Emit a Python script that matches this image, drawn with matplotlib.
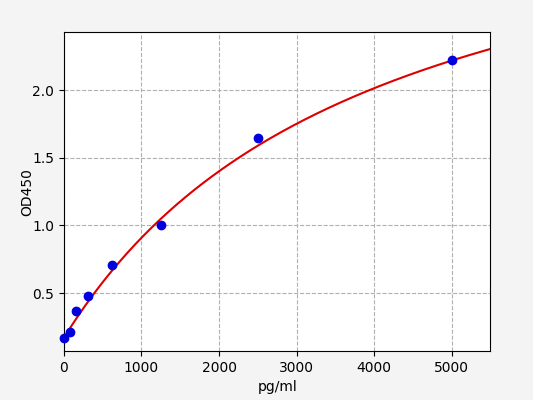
import numpy as np
import matplotlib.pyplot as plt

conc = [0, 78, 156, 312, 625, 1250, 2500, 5000]
od = [0.17, 0.21, 0.365, 0.475, 0.705, 1.0, 1.645, 2.22]

# four parameter logistic fit parameters (a, b, c, d)
fit_a, fit_b, fit_c, fit_d = 0.17, 1.0, 3982, 3.85

xs = np.linspace(0, 5500, 300)
ys = fit_d + (fit_a - fit_d) / (1 + (xs / fit_c) ** fit_b)

fig, ax = plt.subplots(figsize=(5.33, 4), dpi=100)
fig.patch.set_facecolor('#f4f4f4')
ax.plot(xs, ys, color='#dd0000', lw=1.5, zorder=2)
ax.scatter(conc, od, color='#0000dd', s=36, zorder=3, clip_on=False)
ax.set_xlim(0, 5500)
ax.set_ylim(0.07, 2.43)
ax.set_xticks([0, 1000, 2000, 3000, 4000, 5000])
ax.set_yticks([0.5, 1.0, 1.5, 2.0])
ax.grid(True, ls='--', color='#b0b0b0', lw=0.8)
ax.set_xlabel('pg/ml')
ax.set_ylabel('OD450', labelpad=-1.5)
fig.subplots_adjust(left=0.12, right=0.92, top=0.92, bottom=0.122)
fig.savefig('out.png', dpi=100, facecolor=fig.get_facecolor())
